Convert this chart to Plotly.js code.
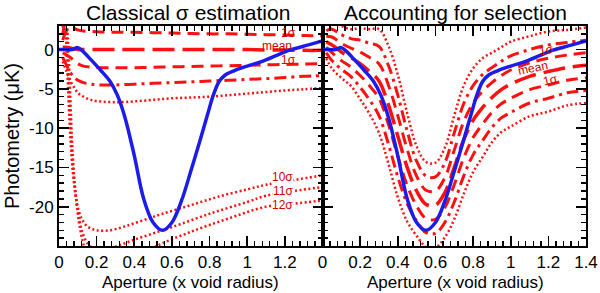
<!DOCTYPE html>
<html>
<head>
<meta charset="utf-8">
<script src="https://cdn.plot.ly/plotly-3.0.1.min.js"></script>
<style>html,body{margin:0;padding:0;background:#fff;}#chart{width:600px;height:293px;}</style>
</head>
<body>
<div id="chart"></div>
<script>
// ---------- Data ----------
// Observed stacked photometry (blue), same in both panels
const blueX = [0, 0.04, 0.07, 0.1, 0.13, 0.17, 0.22, 0.27, 0.31, 0.35, 0.4, 0.45, 0.5, 0.55, 0.6, 0.65, 0.7, 0.75, 0.79, 0.82, 0.85, 0.88, 0.93, 1.0, 1.08, 1.16, 1.22, 1.28, 1.34, 1.4];
const blueY = [0, 0.0, 0.0, 0.25, -0.3, -1.3, -2.6, -4.0, -5.8, -8.6, -13.5, -19.0, -22.0, -23.0, -22.0, -19.3, -15.5, -11.5, -8.2, -5.8, -4.1, -3.3, -2.7, -2.1, -1.5, -0.7, -0.1, 0.3, 0.7, 1.1];

// Left panel: classical sigma estimation
const xLeft = [0.02, 0.04, 0.06, 0.08, 0.1, 0.13, 0.17, 0.22, 0.3, 0.4, 0.5, 0.6, 0.7, 0.8, 0.9, 1.0, 1.1, 1.2, 1.3, 1.4];
const meanLeft = [0.3, 0.3, 0.2, 0.1, 0.0, 0.0, 0.0, 0.0, 0.0, 0.0, 0.0, 0.0, 0.0, 0.0, 0.0, 0.0, -0.05, -0.05, -0.1, -0.1];
const plus1Left = [1.2, 2.4, 2.8, 2.7, 2.5, 2.35, 2.3, 2.25, 2.2, 2.2, 2.15, 2.1, 2.05, 2.0, 2.0, 1.95, 1.9, 1.85, 1.8, 1.75];
const plus2Left = [2.0, 4.2, 5.2, 5.0, 4.8, 4.6, 4.5, 4.4, 4.3, 4.2, 4.1, 4.0, 3.9, 3.8, 3.8, 3.7, 3.6, 3.6, 3.5, 3.4];
const plus3Left = [2.8, 6.0, 7.6, 7.4, 7.1, 6.9, 6.8, 6.6, 6.4, 6.3, 6.1, 6.0, 5.9, 5.7, 5.6, 5.5, 5.4, 5.3, 5.2, 5.1];
const minus1Left = [-0.4, -0.7, -1.0, -1.4, -1.8, -2.1, -2.25, -2.3, -2.3, -2.3, -2.25, -2.2, -2.15, -2.1, -2.05, -2.0, -1.95, -1.9, -1.85, -1.8];
const minus2Left = [-1.0, -2.0, -2.9, -3.5, -3.9, -4.2, -4.4, -4.5, -4.5, -4.4, -4.3, -4.2, -4.1, -4.0, -3.9, -3.8, -3.7, -3.55, -3.4, -3.3];
const minus3Left = [-1.5, -2.8, -4.0, -4.8, -5.5, -6.0, -6.4, -6.6, -6.7, -6.6, -6.4, -6.2, -6.1, -6.0, -5.8, -5.6, -5.4, -5.2, -5.05, -4.9];

const x10 = [0.03, 0.04, 0.05, 0.06, 0.075, 0.095, 0.12, 0.15, 0.2, 0.27, 0.35, 0.45, 0.55, 0.7, 0.85, 1.0, 1.1, 1.25, 1.4];
const sig10 = [5.0, 0.0, -6.0, -11.0, -16.0, -19.5, -21.5, -22.5, -23.0, -23.0, -22.5, -21.7, -20.9, -19.8, -18.7, -17.8, -17.2, -16.6, -16.0];
const x11 = [0.035, 0.045, 0.055, 0.065, 0.08, 0.1, 0.125, 0.16, 0.22, 0.31, 0.4, 0.5, 0.6, 0.8, 1.0, 1.1, 1.25, 1.4];
const sig11 = [5.0, 0.0, -6.0, -11.5, -16.5, -20.5, -23.3, -24.9, -25.6, -25.0, -24.2, -23.4, -22.6, -20.9, -19.4, -18.6, -18.0, -17.5];
const x12 = [0.04, 0.05, 0.06, 0.07, 0.085, 0.105, 0.13, 0.16, 0.25, 0.35, 0.45, 0.52, 0.7, 0.9, 1.1, 1.25, 1.4];
const sig12 = [5.0, 0.0, -6.0, -12.0, -17.5, -21.8, -24.8, -27.0, -28.3, -27.3, -26.0, -25.0, -23.2, -21.5, -20.0, -19.6, -19.2];

// Right panel: accounting for selection
const xRight = [0.02, 0.05, 0.1, 0.15, 0.2, 0.25, 0.3, 0.35, 0.4, 0.45, 0.5, 0.55, 0.6, 0.65, 0.7, 0.75, 0.8, 0.85, 0.9, 0.95, 1.0, 1.1, 1.2, 1.3, 1.4];
const meanRight = [1.0, 0.6, -0.3, -1.0, -1.8, -2.8, -4.0, -7.0, -11.0, -15.0, -18.0, -19.7, -19.8, -18.2, -15.0, -11.5, -9.0, -7.4, -6.1, -5.1, -4.4, -3.4, -2.8, -2.3, -2.0];
const plus1Right = [1.7, 1.6, 0.8, 0.2, -0.3, -1.0, -1.8, -4.5, -8.4, -12.7, -16.1, -17.9, -18.0, -16.3, -12.8, -9.2, -6.8, -5.3, -4.2, -3.3, -2.6, -1.7, -1.1, -0.7, -0.4];
const plus2Right = [2.4, 2.6, 1.9, 1.4, 1.2, 0.8, 0.4, -2.0, -5.8, -10.4, -14.2, -16.1, -16.2, -14.4, -10.6, -6.9, -4.6, -3.2, -2.3, -1.5, -0.8, 0.0, 0.6, 0.9, 1.2];
const plus3Right = [3.1, 3.6, 3.0, 2.6, 2.7, 2.6, 2.6, 0.5, -3.2, -8.1, -12.3, -14.3, -14.4, -12.5, -8.4, -4.6, -2.4, -1.1, -0.4, 0.3, 1.0, 1.7, 2.3, 2.5, 2.8];
const minus1Right = [0.3, -0.4, -1.4, -2.2, -3.3, -4.6, -6.2, -9.5, -13.6, -17.3, -19.9, -21.5, -21.6, -20.1, -17.2, -13.8, -11.2, -9.5, -8.0, -6.9, -6.2, -5.1, -4.5, -3.9, -3.6];
const minus2Right = [-0.4, -1.4, -2.5, -3.4, -4.8, -6.4, -8.4, -12.0, -16.2, -19.6, -21.8, -23.3, -23.4, -22.0, -19.4, -16.1, -13.4, -11.6, -9.9, -8.7, -8.0, -6.8, -6.2, -5.5, -5.2];
const minus3Right = [-1.1, -2.4, -3.6, -4.6, -6.3, -8.2, -10.6, -14.5, -18.8, -21.9, -23.7, -25.1, -25.2, -23.9, -21.6, -18.4, -15.6, -13.7, -11.8, -10.5, -9.8, -8.5, -7.9, -7.1, -6.8];

// Ticks
const xTickValsLeft = [0, 0.2, 0.4, 0.6, 0.8, 1.0, 1.2];
const xTickTextLeft = ['0', '0.2', '0.4', '0.6', '0.8', '1', '1.2'];
const xTickValsRight = [0, 0.2, 0.4, 0.6, 0.8, 1.0, 1.2, 1.4];
const xTickTextRight = ['0', '0.2', '0.4', '0.6', '0.8', '1', '1.2', '1.4'];
const yTickVals = [-20, -15, -10, -5, 0];
const yTickText = ['-20', '-15', '-10', '-5', '0'];

// ---------- Styles ----------
const RED = '#ff1010';
const BLUE = '#1c1ce8';
const FONT = 'Liberation Sans, Arial, Helvetica, sans-serif';
const stMean = {color: RED, width: 3.5, dash: '22px,8px', shape: 'spline'};
const st1 = {color: RED, width: 3, dash: '12px,7px', shape: 'spline'};
const st2 = {color: RED, width: 3, dash: '12px,5px,3px,5px', shape: 'spline'};
const st3 = {color: RED, width: 2.5, dash: '2px,2.5px', shape: 'spline'};
const stBlue = {color: BLUE, width: 3.5, shape: 'spline'};

function tr(x, y, line, xa, ya) {
  return {x: x, y: y, type: 'scatter', mode: 'lines', line: line, xaxis: xa, yaxis: ya, hoverinfo: 'skip', showlegend: false};
}

const traces = [
  tr(xLeft, plus3Left, st3, 'x', 'y'),
  tr(xLeft, plus2Left, st2, 'x', 'y'),
  tr(xLeft, plus1Left, st1, 'x', 'y'),
  tr(xLeft, meanLeft, stMean, 'x', 'y'),
  tr(xLeft, minus1Left, st1, 'x', 'y'),
  tr(xLeft, minus2Left, st2, 'x', 'y'),
  tr(xLeft, minus3Left, st3, 'x', 'y'),
  tr(x10, sig10, st3, 'x', 'y'),
  tr(x11, sig11, st3, 'x', 'y'),
  tr(x12, sig12, st3, 'x', 'y'),
  tr(blueX, blueY, stBlue, 'x', 'y'),
  tr(xRight, plus3Right, st3, 'x2', 'y2'),
  tr(xRight, plus2Right, st2, 'x2', 'y2'),
  tr(xRight, plus1Right, st1, 'x2', 'y2'),
  tr(xRight, meanRight, stMean, 'x2', 'y2'),
  tr(xRight, minus1Right, st1, 'x2', 'y2'),
  tr(xRight, minus2Right, st2, 'x2', 'y2'),
  tr(xRight, minus3Right, st3, 'x2', 'y2'),
  tr(blueX, blueY, stBlue, 'x2', 'y2')
];

function xax(domain, vals, text, anchor) {
  return {
    domain: domain, range: [0, 1.4], anchor: anchor,
    showline: true, linewidth: 2, linecolor: 'black', mirror: 'ticks',
    ticks: 'inside', ticklen: 10, tickwidth: 1.6, tickcolor: 'black',
    tickmode: 'array', tickvals: vals, ticktext: text,
    minor: {tickmode: 'linear', tick0: 0, dtick: 0.04, ticks: 'inside', ticklen: 5, tickwidth: 1.4, tickcolor: 'black', showgrid: false},
    showgrid: false, zeroline: false,
    tickfont: {family: FONT, size: 17, color: 'black'}
  };
}
function yax(anchor, labels) {
  return {
    range: [-25, 3], anchor: anchor,
    showline: true, linewidth: 2, linecolor: 'black', mirror: 'ticks',
    ticks: 'inside', ticklen: 10, tickwidth: 1.6, tickcolor: 'black',
    tickmode: 'array', tickvals: yTickVals, ticktext: yTickText, showticklabels: labels,
    minor: {tickmode: 'linear', tick0: 0, dtick: 1, ticks: 'inside', ticklen: 5, tickwidth: 1.4, tickcolor: 'black', showgrid: false},
    showgrid: false, zeroline: false,
    tickfont: {family: FONT, size: 17, color: 'black'}
  };
}

const labelFont = {family: FONT, size: 12, color: '#d00000'};
function lab(text, x, y, xr, yr, angle, bg) {
  return {text: text, x: x, y: y, xref: xr, yref: yr, xanchor: 'center', yanchor: 'middle', showarrow: false, font: labelFont,
          textangle: angle || 0, bgcolor: bg || 'rgba(0,0,0,0)', borderpad: 0};
}
function txt(text, x, y, size, extra) {
  return Object.assign({text: text, x: x, y: y, xref: 'paper', yref: 'paper', xanchor: 'center', yanchor: 'middle', showarrow: false,
          font: {family: FONT, size: size, color: 'black'}}, extra || {});
}

const layout = {
  width: 600, height: 293,
  margin: {l: 59, r: 14, t: 26, b: 47, pad: 0},
  paper_bgcolor: 'white', plot_bgcolor: 'white',
  showlegend: false,
  xaxis: xax([0, 0.5], xTickValsLeft, xTickTextLeft, 'y'),
  yaxis: yax('x', true),
  xaxis2: xax([0.5, 1], xTickValsRight, xTickTextRight, 'y2'),
  yaxis2: yax('x2', false),
  annotations: [
    txt('Classical σ estimation', 0.245, 1, 21, {yanchor: 'bottom', yshift: 1, borderpad: 0}),
    txt('Accounting for selection', 0.753, 1, 21, {yanchor: 'bottom', yshift: 1, borderpad: 0}),
    txt('Aperture (x void radius)', 0.25, 0, 17, {yshift: -36}),
    txt('Aperture (x void radius)', 0.752, 0, 17, {yshift: -36}),
    txt('Photometry (μK)', 0, 0.5, 20, {xshift: -47, textangle: -90}),
    lab('1σ', 1.22, 2.1, 'x', 'y'),
    lab('mean', 1.16, 0.5, 'x', 'y'),
    lab('1σ', 1.22, -1.35, 'x', 'y'),
    lab('10σ', 1.19, -16.2, 'x', 'y', 0, 'white'),
    lab('11σ', 1.19, -18.0, 'x', 'y', 0, 'white'),
    lab('12σ', 1.19, -19.8, 'x', 'y', 0, 'white'),
    lab('1σ', 1.19, 0.0, 'x2', 'y2', -12),
    lab('mean', 1.12, -2.4, 'x2', 'y2', -12),
    lab('1σ', 1.21, -3.9, 'x2', 'y2', -12)
  ]
};

Plotly.newPlot('chart', traces, layout, {staticPlot: true, displayModeBar: false});
</script>
</body>
</html>
